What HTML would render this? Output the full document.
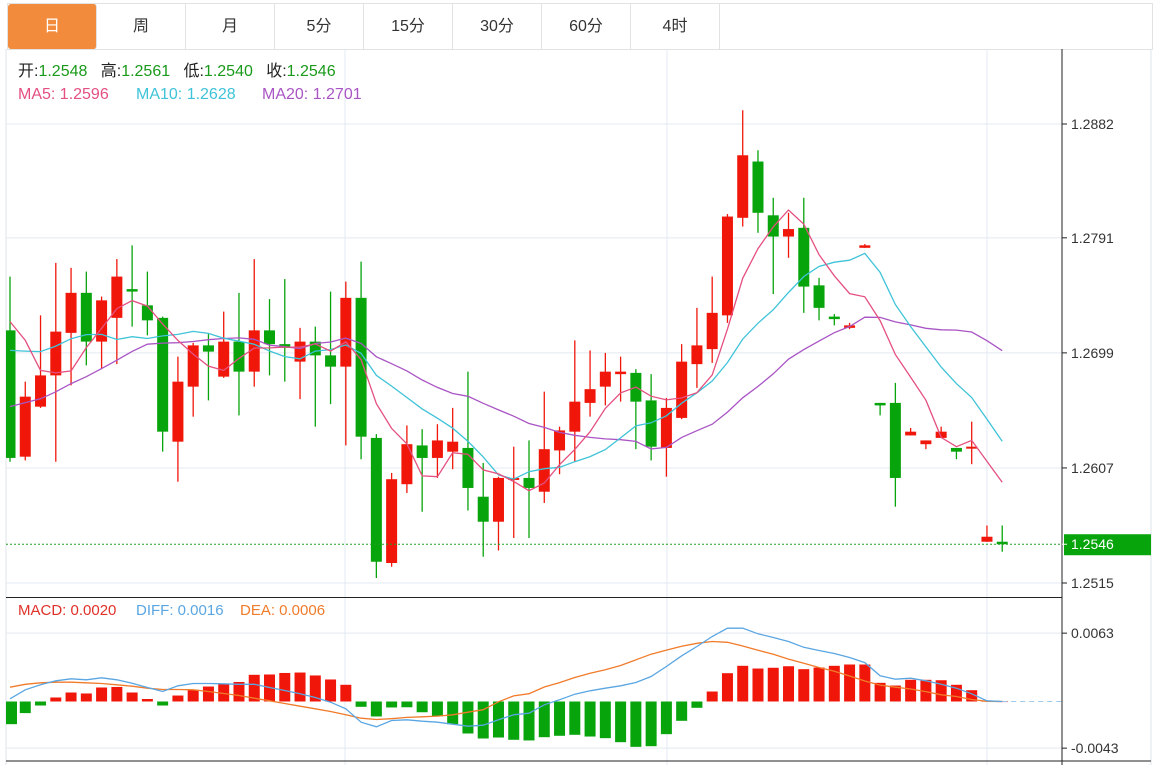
<!DOCTYPE html>
<html><head><meta charset="utf-8">
<style>
body{margin:0;background:#fff;width:1168px;height:765px;overflow:hidden;font-family:"Liberation Sans","Noto Sans CJK SC",sans-serif;}
#tabs{position:absolute;left:7px;top:3px;width:1144px;height:45px;border:1px solid #e2e2e2;border-bottom:1px solid #e2e2e2;box-sizing:content-box;}
.tab{position:absolute;top:0;height:45px;width:88px;border-right:1px solid #e2e2e2;text-align:center;line-height:45px;font-size:16px;color:#333;}
.tab.on{background:#f28c3c;color:#fff;border-radius:3px;}
svg{position:absolute;left:0;top:0;}
</style></head><body>
<div id="tabs">
<div class="tab on" style="left:0">日</div>
<div class="tab" style="left:89px">周</div>
<div class="tab" style="left:178px">月</div>
<div class="tab" style="left:267px">5分</div>
<div class="tab" style="left:356px">15分</div>
<div class="tab" style="left:445px">30分</div>
<div class="tab" style="left:534px">60分</div>
<div class="tab" style="left:623px">4时</div>
</div>
<svg id="chart" width="1168" height="765"></svg>
<script>
const opens=[1.2717,1.2616,1.2656,1.2681,1.2715,1.2747,1.2708,1.2727,1.2750,1.2737,1.2727,1.2628,1.2672,1.2705,1.2680,1.2708,1.2684,1.2717,1.2706,1.2692,1.2708,1.2697,1.2688,1.2743,1.2631,1.2531,1.2594,1.2625,1.2615,1.2620,1.2623,1.2584,1.2564,1.2598,1.2599,1.2588,1.2621,1.2636,1.2659,1.2672,1.2682,1.2683,1.2661,1.2623,1.2647,1.2690,1.2702,1.2729,1.2807,1.2852,1.2809,1.2792,1.2799,1.2753,1.2728,1.2719,1.2783,1.2659,1.2659,1.2633,1.2626,1.2631,1.2623,1.2623,1.2548,1.2548];
const closes=[1.2615,1.2664,1.2681,1.2716,1.2747,1.2708,1.2741,1.2760,1.2748,1.2725,1.2636,1.2676,1.2705,1.2700,1.2708,1.2684,1.2717,1.2706,1.2703,1.2708,1.2697,1.2688,1.2743,1.2632,1.2532,1.2598,1.2626,1.2615,1.2629,1.2628,1.2591,1.2564,1.2599,1.2599,1.2591,1.2622,1.2637,1.2660,1.2670,1.2684,1.2684,1.2660,1.2624,1.2655,1.2692,1.2705,1.2731,1.2808,1.2857,1.2811,1.2792,1.2798,1.2752,1.2735,1.2726,1.2721,1.2785,1.2657,1.2599,1.2636,1.2629,1.2636,1.2620,1.2624,1.2552,1.2546];
const highs=[1.2760,1.2676,1.2729,1.2771,1.2767,1.2764,1.2744,1.2774,1.2785,1.2764,1.2728,1.2696,1.2707,1.2714,1.2732,1.2747,1.2774,1.2742,1.2758,1.2719,1.2720,1.2748,1.2756,1.2772,1.2634,1.2603,1.2641,1.2638,1.2642,1.2655,1.2684,1.2611,1.2600,1.2624,1.2629,1.2668,1.2640,1.2709,1.2701,1.2699,1.2696,1.2686,1.2682,1.2663,1.2706,1.2735,1.2760,1.2810,1.2893,1.2861,1.2823,1.2811,1.2823,1.2759,1.2730,1.2723,1.2786,1.2659,1.2675,1.2639,1.2629,1.2640,1.2623,1.2644,1.2561,1.2561];
const lows=[1.2612,1.2613,1.2655,1.2612,1.2673,1.2689,1.2686,1.2690,1.2720,1.2713,1.2620,1.2596,1.2648,1.2661,1.2679,1.2649,1.2672,1.2681,1.2676,1.2662,1.2640,1.2658,1.2625,1.2614,1.2519,1.2528,1.2587,1.2572,1.2599,1.2606,1.2573,1.2536,1.2541,1.2551,1.2551,1.2579,1.2602,1.2612,1.2648,1.2657,1.2660,1.2622,1.2613,1.2600,1.2646,1.2671,1.2691,1.2723,1.2800,1.2795,1.2746,1.2775,1.2731,1.2725,1.2721,1.2718,1.2783,1.2649,1.2576,1.2633,1.2622,1.2631,1.2614,1.2610,1.2548,1.2540];
const priorCloses=[1.2600,1.2620,1.2605,1.2615,1.2598,1.2612,1.2625,1.2608,1.2610,1.2618,1.2670,1.2685,1.2672,1.2688,1.2675,1.2739,1.2801,1.2726,1.2739];
const priceTicks=[1.2882,1.2791,1.2699,1.2607,1.2515];
const macdTicks=[0.0063,-0.0043];
// histogram in units of 1e-4
const macdHist=[-20.9,-10.7,-3.7,3.7,8.3,7.4,12.9,13.4,8.3,2.3,-3.7,5.5,10.8,13.8,16.6,18.0,24.6,24.9,26.3,26.7,24.0,20.3,15.4,-4.9,-13.8,-5.5,-5.3,-9.9,-13.5,-20.9,-29.5,-34.1,-33.2,-35.3,-35.9,-32.9,-31.6,-30.7,-32.3,-33.8,-37.5,-41.8,-41.2,-30.1,-17.8,-5.8,9.2,26.1,32.9,30.4,31.1,32.5,29.8,31.3,32.9,34.1,34.1,17.2,14.7,20.0,20.0,19.6,15.4,10.4,0.8,0.4];
// DIFF / DEA in units of 1e-3
const diffVals=[0.25,1.08,1.54,1.91,2.09,2.00,2.18,2.00,1.69,1.29,0.92,1.45,1.66,1.66,1.63,1.59,1.59,1.29,1.01,0.71,0.37,-0.06,-0.67,-1.91,-2.33,-1.75,-1.69,-1.82,-1.91,-2.09,-2.28,-2.18,-1.69,-1.23,-1.08,-0.30,0.16,0.67,0.99,1.23,1.45,1.75,2.30,3.23,4.21,5.07,5.99,6.76,6.76,6.24,5.90,5.53,5.00,4.70,4.42,4.06,3.59,2.37,2.06,2.15,1.91,1.59,1.23,0.71,0.06,0.00];
const deaVals=[1.32,1.59,1.72,1.78,1.78,1.72,1.66,1.54,1.41,1.23,1.11,1.11,1.08,0.92,0.74,0.55,0.30,0.06,-0.18,-0.43,-0.67,-0.92,-1.23,-1.54,-1.66,-1.59,-1.47,-1.41,-1.35,-1.23,-0.99,-0.76,-0.03,0.52,0.72,1.34,1.74,2.21,2.60,2.92,3.32,3.84,4.36,4.74,5.10,5.36,5.53,5.46,5.12,4.72,4.35,3.91,3.52,3.13,2.78,2.35,1.89,1.51,1.32,1.15,0.91,0.62,0.46,0.18,0.02,0.00];

const NS='http://www.w3.org/2000/svg';
const svg=document.getElementById('chart');
const RED='#f0170a',GREEN='#08a40c';
function xAt(i){return 10+i*15.265;}
function yP(p){return 124+(1.2882-p)*12507;}
function yM(v){return 701.5-v*10849;}
function mk(tag,attrs,parent){const e=document.createElementNS(NS,tag);for(const k in attrs)e.setAttribute(k,attrs[k]);(parent||svg).appendChild(e);return e;}

const grid=mk('g',{});


mk('line',{x1:6,y1:49,x2:6,y2:765,stroke:'#dfe4ea'},grid);
mk('line',{x1:1151,y1:49,x2:1151,y2:765,stroke:'#dfe4ea'},grid);
[345,667,987].forEach(x=>mk('line',{x1:x,y1:49,x2:x,y2:765,stroke:'#e3e9f0'},grid));
priceTicks.forEach(t=>mk('line',{x1:6,y1:yP(t),x2:1062,y2:yP(t),stroke:'#e3e9f0'},grid));
macdTicks.forEach(t=>mk('line',{x1:6,y1:yM(t),x2:1062,y2:yM(t),stroke:'#e3e9f0'},grid));
mk('line',{x1:6,y1:597.5,x2:1062,y2:597.5,stroke:'#222'},grid);
mk('line',{x1:6,y1:761,x2:1151,y2:761,stroke:'#222'},grid);
mk('line',{x1:1062,y1:49,x2:1062,y2:765,stroke:'#222'},grid);

const axis=mk('g',{});


priceTicks.forEach(t=>{
  mk('line',{x1:1062,y1:yP(t),x2:1067,y2:yP(t),stroke:'#222'},axis);
  const tx=mk('text',{x:1071,y:yP(t)+5,'font-size':14,fill:'#333'},axis);
  tx.textContent=t.toFixed(4);
  
  
});
macdTicks.forEach(t=>{
  mk('line',{x1:1062,y1:yM(t),x2:1067,y2:yM(t),stroke:'#222'},axis);
  const tx=mk('text',{x:1071,y:yM(t)+5,'font-size':14,fill:'#333'},axis);
  tx.textContent=t.toFixed(4);
  
  
});

const allC=priorCloses.concat(closes);
function ma(n){const r=[];for(let i=0;i<closes.length;i++){let s=0;const j=i+priorCloses.length;for(let k=j-n+1;k<=j;k++)s+=allC[k];r.push(s/n);}return r;}
function poly(vals,fy,color,name){
  const pts=vals.map((v,i)=>xAt(i).toFixed(1)+','+fy(v).toFixed(1)).join(' ');
  const p=mk('polyline',{points:pts,fill:'none',stroke:color,'stroke-width':1.3});
  
  
}

const cg=mk('g',{});


for(let i=0;i<closes.length;i++){
  const up=closes[i]>=opens[i];const col=up?RED:GREEN;const x=xAt(i);
  const g=mk('g',{},cg);
  
  
  mk('line',{x1:x,y1:yP(highs[i]),x2:x,y2:yP(lows[i]),stroke:col,'stroke-width':1.3},g);
  const top=yP(Math.max(opens[i],closes[i])),bot=yP(Math.min(opens[i],closes[i]));
  mk('rect',{x:Math.max(6,x-5.5),y:top,width:11-(x-5.5<6?6-(x-5.5):0),height:Math.max(2,bot-top),fill:col},g);
}
poly(ma(20),yP,'#a955c4','ma20-line');
poly(ma(10),yP,'#3fc3d8','ma10-line');
poly(ma(5),yP,'#e4507f','ma5-line');

const lp=closes[closes.length-1];
const ll=mk('line',{x1:6,y1:yP(lp),x2:1062,y2:yP(lp),stroke:'#22a022','stroke-dasharray':'2,2'});


const lb=mk('rect',{x:1064,y:yP(lp)-10,width:87,height:21,fill:'#08a40c'});


mk('line',{x1:1062,y1:yP(lp),x2:1067,y2:yP(lp),stroke:'#fff'});
const lt=mk('text',{x:1071,y:yP(lp)+5,'font-size':14,fill:'#fff'});
lt.textContent=lp.toFixed(4);



const mg=mk('g',{});


for(let i=0;i<macdHist.length;i++){
  const v=macdHist[i]*1e-4;const y0=yM(0),y1=yM(v);
  const r=mk('rect',{x:Math.max(6,xAt(i)-5.5),y:Math.min(y0,y1),width:11,height:Math.max(1,Math.abs(y1-y0)),fill:v>=0?RED:GREEN},mg);
  
  
}
const zl=mk('line',{x1:xAt(macdHist.length-1),y1:yM(0),x2:1062,y2:yM(0),stroke:'#9cc9ea','stroke-dasharray':'5,4'});


poly(deaVals.map(v=>v*1e-3),yM,'#f07b2a','dea-line');
poly(diffVals.map(v=>v*1e-3),yM,'#5aa6e2','diff-line');

function txt(x,y,s,color,size,name){const t=mk('text',{x:x,y:y,'font-size':size,fill:color});t.textContent=s;return t;}
const hdr=mk('text',{x:18,y:76,'font-size':16});


[['开:','#222'],['1.2548','#1a9a1a'],['   高:','#222'],['1.2561','#1a9a1a'],['   低:','#222'],['1.2540','#1a9a1a'],['   收:','#222'],['1.2546','#1a9a1a']].forEach(([s,c])=>{const sp=mk('tspan',{fill:c},hdr);sp.textContent=s;});
hdr.setAttribute('xml:space','preserve');hdr.style.whiteSpace='pre';
txt(18,99,'MA5: 1.2596','#e4507f',16,'ma5-legend');
txt(136,99,'MA10: 1.2628','#3fc3d8',16,'ma10-legend');
txt(262,99,'MA20: 1.2701','#a955c4',16,'ma20-legend');
txt(18,615,'MACD: 0.0020','#e0302a',15,'macd-legend');
txt(136,615,'DIFF: 0.0016','#5aa6e2',15,'diff-legend');
txt(240,615,'DEA: 0.0006','#f07b2a',15,'dea-legend');
</script>
</body></html>
